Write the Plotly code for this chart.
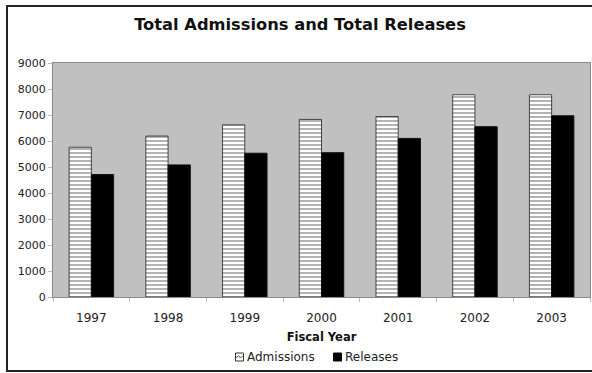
import plotly.graph_objects as go

years = ["1997", "1998", "1999", "2000", "2001", "2002", "2003"]
admissions = [5760, 6190, 6620, 6830, 6940, 7780, 7780]
releases = [4710, 5080, 5530, 5550, 6100, 6550, 6970]
y_ticks = [0, 1000, 2000, 3000, 4000, 5000, 6000, 7000, 8000, 9000]
series_names = ["Admissions", "Releases"]

W, H = 592, 373
ml, mr, mt, mb = 53, 2, 63, 76
pw, ph = W - ml - mr, H - mt - mb


def px_x(p):
    return (p - ml) / pw


def px_y(p):
    return (H - mb - p) / ph


fig = go.Figure()
fig.add_trace(go.Bar(
    x=years, y=admissions, name=series_names[0],
    marker=dict(color="white",
                pattern=dict(shape="-", fgcolor="#555555", bgcolor="white",
                             size=4, solidity=0.45, fillmode="overlay"),
                line=dict(color="#444444", width=1)),
))
fig.add_trace(go.Bar(
    x=years, y=releases, name=series_names[1],
    marker=dict(color="black", line=dict(color="#111111", width=1)),
))

font_family = "DejaVu Sans, Verdana, sans-serif"

# manual legend (compact, like the original)
leg_y = 357
shapes = [
    dict(type="rect", xref="paper", yref="paper",
         x0=px_x(7), x1=px_x(600), y0=px_y(371), y1=px_y(6),
         line=dict(color="#222222", width=2), layer="below"),
    # Admissions icon
    dict(type="rect", xref="paper", yref="paper",
         x0=px_x(235.5), x1=px_x(243.5), y0=px_y(leg_y + 4), y1=px_y(leg_y - 4),
         fillcolor="white", line=dict(color="#333333", width=1)),
    dict(type="path", xref="paper", yref="paper",
         path="M {} {} L {} {} L {} {} L {} {}".format(
             px_x(236), px_y(leg_y + 1), px_x(238.5), px_y(leg_y - 1.5),
             px_x(240.5), px_y(leg_y + 1), px_x(243), px_y(leg_y - 1.5)),
         line=dict(color="#555555", width=1)),
    # Releases icon
    dict(type="rect", xref="paper", yref="paper",
         x0=px_x(333.5), x1=px_x(341.5), y0=px_y(leg_y + 4), y1=px_y(leg_y - 4),
         fillcolor="black", line=dict(color="black", width=1)),
]
annotations = [
    dict(text=series_names[0], xref="paper", yref="paper",
         x=px_x(245), y=px_y(leg_y), xanchor="left", yanchor="middle",
         showarrow=False, font=dict(size=12, color="#222222")),
    dict(text=series_names[1], xref="paper", yref="paper",
         x=px_x(342.5), y=px_y(leg_y), xanchor="left", yanchor="middle",
         showarrow=False, font=dict(size=12, color="#222222")),
]

fig.update_layout(
    width=W, height=H,
    margin=dict(l=ml, r=mr, t=mt, b=mb, pad=0),
    paper_bgcolor="white",
    plot_bgcolor="#c0c0c0",
    barmode="group",
    bargap=0.42,
    bargroupgap=0,
    font=dict(family=font_family, size=11, color="#222222"),
    title=dict(text="<b>Total Admissions and Total Releases</b>",
               x=300 / W, xref="container", xanchor="center",
               y=1 - 24 / H, yanchor="middle",
               font=dict(size=16.3, color="#111111")),
    showlegend=False,
    xaxis=dict(type="category", showgrid=False, showline=True,
               linecolor="#8a8a8a", linewidth=1, mirror=True,
               ticks="outside", tickson="boundaries", ticklen=4,
               tickcolor="#bbbbbb", ticklabelstandoff=10,
               tickfont=dict(size=12),
               title=dict(text="<b>Fiscal Year</b>", standoff=8,
                          font=dict(size=11.5, color="#111111"))),
    yaxis=dict(range=[0, 9000], tickvals=y_ticks, showgrid=False,
               showline=True, linecolor="#8a8a8a", linewidth=1, mirror=True,
               ticks="outside", ticklen=4, tickcolor="#bbbbbb",
               zeroline=False, tickfont=dict(size=11)),
    shapes=shapes,
    annotations=annotations,
)

fig.write_html("out.html")
